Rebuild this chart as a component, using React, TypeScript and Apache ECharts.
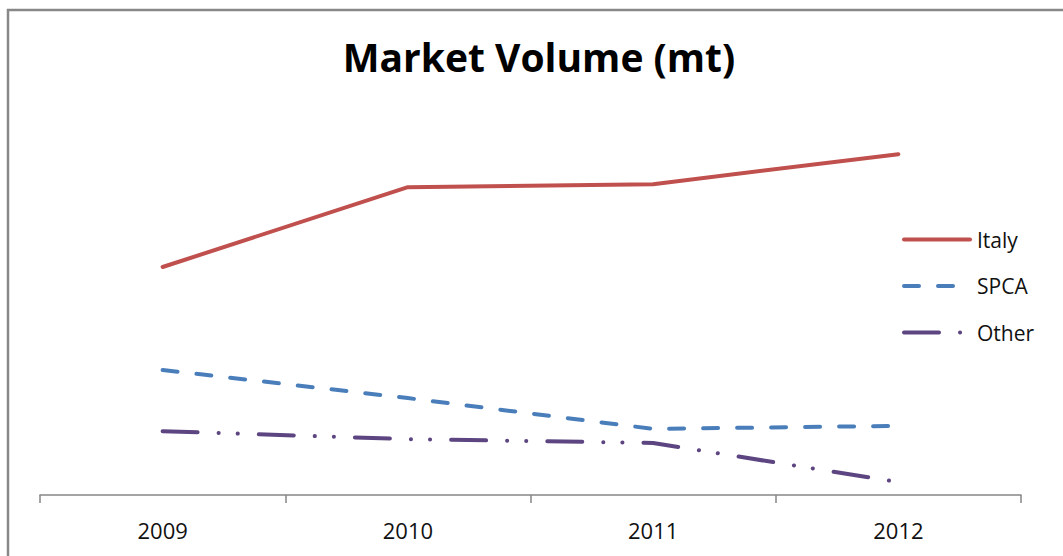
import React, { useEffect, useRef } from "react";
import * as echarts from "echarts";

const categories = ["2009", "2010", "2011", "2012"];
const italy = [60.0, 81.0, 81.8, 89.7];
const spca = [32.9, 25.5, 17.4, 18.2];
const other = [16.8, 14.7, 13.7, 3.4];

const FONT = "'Open Sans', 'Liberation Sans', sans-serif";

export default function App() {
  const ref = useRef<HTMLDivElement>(null);
  useEffect(() => {
    const chart = echarts.init(ref.current!, null, { renderer: "svg" });
    chart.setOption({
      animation: false,
      backgroundColor: "#ffffff",
      title: {
        text: "Market Volume (mt)",
        left: 534,
        top: 32,
        textAlign: "center",
        textStyle: { fontFamily: FONT, fontWeight: "bold", fontSize: 39, color: "#000" },
      },
      graphic: [
        {
          type: "rect",
          shape: { x: 8, y: 10, width: 1200, height: 700 },
          style: { fill: "none", stroke: "#888888", lineWidth: 2.5 },
          silent: true,
        },
      ],
      legend: {
        orient: "vertical",
        left: 902,
        top: 229,
        padding: 0,
        itemWidth: 66,
        itemHeight: 20,
        itemGap: 25.5,
        itemStyle: { opacity: 0 },
        lineStyle: { width: 4, cap: "round" },
        textStyle: { fontFamily: FONT, fontSize: 21, color: "#111", padding: [0, 0, 0, 2] },
        data: ["Italy", "SPCA", "Other"],
      },
      grid: { left: 40, right: 42, top: 115, bottom: 61 },
      xAxis: {
        type: "category",
        data: categories,
        boundaryGap: true,
        axisLine: { lineStyle: { color: "#868686", width: 1.5 } },
        axisTick: { show: true, length: 8, lineStyle: { color: "#868686", width: 1.5 } },
        axisLabel: { fontFamily: FONT, fontSize: 22, color: "#111", margin: 24 },
      },
      yAxis: {
        type: "value",
        min: 0,
        max: 100,
        show: false,
        splitLine: { show: false },
      },
      series: [
        {
          name: "Italy",
          type: "line",
          data: italy,
          symbol: "none",
          lineStyle: { color: "#C0504D", width: 4, cap: "round" },
          itemStyle: { color: "#C0504D" },
        },
        {
          name: "SPCA",
          type: "line",
          data: spca,
          symbol: "none",
          lineStyle: { color: "#4A7EBB", width: 4, cap: "round", type: [15, 19] },
          itemStyle: { color: "#4A7EBB" },
        },
        {
          name: "Other",
          type: "line",
          data: other,
          symbol: "none",
          lineStyle: { color: "#5C4580", width: 4, cap: "round", type: [35, 21, 0.1, 19, 0.1, 21] },
          itemStyle: { color: "#5C4580" },
        },
      ],
    });
    return () => chart.dispose();
  }, []);
  return <div ref={ref} style={{ position: "absolute", left: 0, top: 0, width: 1063, height: 556 }} />;
}
